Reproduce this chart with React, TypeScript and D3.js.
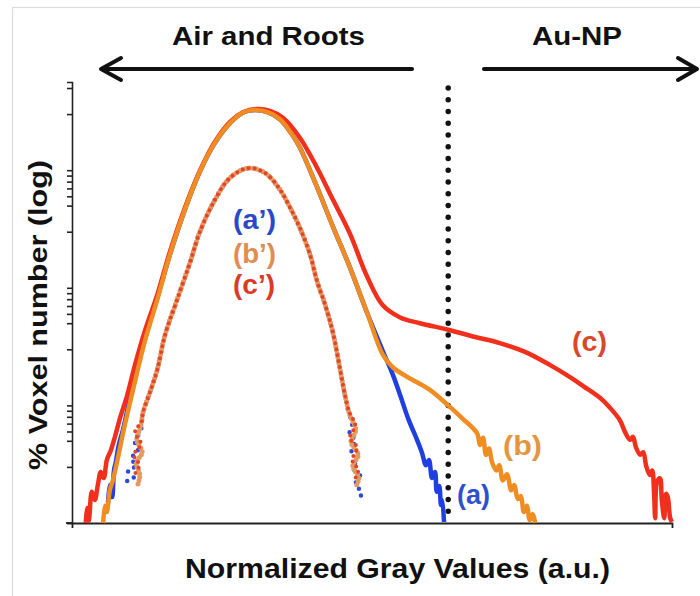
import React, { useEffect, useRef } from "react";
import * as d3 from "d3";

type Pt = [number, number];

// x: normalized gray value (0..1), y: % voxel number (log scale)
const sharedOuter: Pt[] = [
  [0.163, 1.9e-2], [0.188, 4.6e-2], [0.213, 9.7e-2], [0.238, 0.17], [0.263, 0.25],
  [0.285, 0.31], [0.305, 0.325], [0.327, 0.31], [0.347, 0.27], [0.367, 0.2],
  [0.38, 0.155], [0.405, 7.9e-2], [0.435, 3.3e-2], [0.463, 1.5e-2], [0.492, 6.1e-3],
];

const blueLeft: Pt[] = [
  [0.06, 1.48e-4], [0.063, 2.1e-4], [0.067, 1.66e-4], [0.07, 2.8e-4], [0.073, 3.3e-4],
  [0.078, 4.6e-4], [0.085, 6.2e-4], [0.093, 9.5e-4], [0.105, 1.81e-3], [0.122, 3.74e-3],
  [0.142, 8.2e-3],
];
const blueRight: Pt[] = [
  [0.518, 2.9e-3], [0.535, 1.81e-3], [0.547, 1.22e-3], [0.56, 7.8e-4], [0.575, 5.1e-4],
  [0.583, 4.0e-4], [0.59, 3.1e-4], [0.595, 3.43e-4], [0.6, 2.41e-4], [0.605, 2.72e-4],
  [0.608, 1.84e-4], [0.612, 2.06e-4], [0.615, 1.42e-4], [0.617, 1.57e-4], [0.62, 1.02e-4],
];

const orangeLeft: Pt[] = [
  [0.052, 1e-4], [0.055, 1.4e-4], [0.058, 1.24e-4], [0.063, 1.9e-4], [0.068, 2.3e-4],
  [0.075, 3.3e-4], [0.088, 6.8e-4], [0.105, 1.6e-3], [0.122, 3.6e-3], [0.142, 7.9e-3],
];
const orangeRight: Pt[] = [
  [0.518, 2.7e-3], [0.535, 2.1e-3], [0.563, 1.7e-3], [0.597, 1.35e-3], [0.627, 1.0e-3],
  [0.65, 7.8e-4], [0.675, 5.8e-4], [0.68, 4.6e-4], [0.685, 5.3e-4], [0.69, 3.8e-4],
  [0.695, 4.3e-4], [0.7, 3.3e-4], [0.707, 2.8e-4], [0.712, 3.1e-4], [0.718, 2.3e-4],
  [0.725, 2.6e-4], [0.732, 1.9e-4], [0.737, 2.1e-4], [0.743, 1.6e-4], [0.748, 1.7e-4],
  [0.753, 1.24e-4], [0.758, 1.4e-4], [0.763, 1.06e-4], [0.768, 1.19e-4], [0.772, 1.0e-4],
];

const redSeries: Pt[] = [
  [0.023, 1e-4], [0.025, 1.34e-4], [0.028, 1.04e-4], [0.033, 1.84e-4], [0.038, 1.57e-4],
  [0.043, 2.1e-4], [0.048, 2.72e-4], [0.053, 2.41e-4], [0.058, 3.43e-4], [0.065, 4.18e-4],
  [0.072, 5.5e-4], [0.08, 7.8e-4], [0.092, 1.22e-3], [0.105, 2.21e-3], [0.122, 4.38e-3],
  [0.142, 8.69e-3], [0.163, 2.01e-2], [0.188, 4.77e-2], [0.213, 9.85e-2], [0.238, 0.174],
  [0.263, 0.257], [0.285, 0.31], [0.308, 0.331], [0.33, 0.319], [0.352, 0.278],
  [0.38, 0.188], [0.408, 0.106], [0.435, 5.6e-2], [0.463, 2.9e-2], [0.492, 1.24e-2],
  [0.518, 7.1e-3], [0.547, 5.6e-3], [0.58, 5.0e-3], [0.627, 4.4e-3], [0.672, 3.82e-3],
  [0.713, 3.39e-3], [0.755, 2.85e-3], [0.797, 2.2e-3], [0.83, 1.74e-3], [0.852, 1.46e-3],
  [0.88, 1.16e-3], [0.897, 9.5e-4], [0.913, 7.5e-4], [0.922, 5.9e-4], [0.93, 5.1e-4],
  [0.935, 5.4e-4], [0.94, 4.4e-4], [0.947, 3.8e-4], [0.952, 4.0e-4], [0.957, 3.05e-4],
  [0.963, 2.56e-4], [0.967, 2.8e-4], [0.97, 1.84e-4], [0.972, 1.1e-4], [0.975, 2.23e-4],
  [0.98, 2.4e-4], [0.983, 1.57e-4], [0.987, 1.1e-4], [0.99, 1.77e-4], [0.993, 1.66e-4],
  [0.997, 1.1e-4], [1.0, 1.02e-4],
];

// the narrow (primed) histograms share one core shape
const innerCore: Pt[] = [
  [0.118, 8.6e-4], [0.13, 1.3e-3], [0.142, 2.0e-3], [0.155, 3.97e-3], [0.175, 7.87e-3],
  [0.197, 1.66e-2], [0.213, 2.98e-2], [0.238, 5.58e-2], [0.263, 8.58e-2], [0.293, 0.104],
  [0.322, 9.46e-2], [0.347, 6.79e-2], [0.363, 4.86e-2], [0.38, 3.22e-2], [0.397, 1.9e-2],
  [0.408, 1.16e-2], [0.422, 7.14e-3], [0.435, 4.13e-3], [0.447, 2.0e-3], [0.455, 1.22e-3],
];
const a2Left: Pt[] = [
  [0.092, 2.28e-4], [0.103, 2.41e-4], [0.093, 2.8e-4], [0.107, 3.05e-4], [0.098, 3.57e-4],
  [0.11, 4.0e-4], [0.105, 4.79e-4], [0.115, 6.2e-4],
];
const a2Right: Pt[] = [
  [0.46, 9.1e-4], [0.467, 6.8e-4], [0.462, 5.6e-4], [0.473, 5.1e-4], [0.465, 4.18e-4],
  [0.477, 3.57e-4], [0.468, 2.94e-4], [0.48, 2.56e-4], [0.472, 2.1e-4], [0.483, 1.84e-4],
  [0.475, 1.51e-4],
];
const b2Left: Pt[] = [
  [0.11, 2.15e-4], [0.113, 2.56e-4], [0.107, 3.24e-4], [0.117, 4.0e-4], [0.108, 5.1e-4],
  [0.115, 6.8e-4],
];
const b2Right: Pt[] = [
  [0.463, 8.3e-4], [0.473, 6.2e-4], [0.465, 4.9e-4], [0.477, 3.8e-4], [0.468, 3.05e-4],
  [0.478, 2.41e-4], [0.472, 1.99e-4],
];
const c2Left: Pt[] = [
  [0.102, 2.5e-4], [0.112, 3.1e-4], [0.103, 3.8e-4], [0.115, 4.7e-4], [0.105, 5.9e-4],
  [0.117, 7.5e-4],
];
const c2Right: Pt[] = [
  [0.462, 8.8e-4], [0.472, 6.8e-4], [0.463, 5.3e-4], [0.475, 4.4e-4], [0.467, 3.43e-4],
  [0.477, 2.8e-4], [0.47, 2.3e-4],
];

const yDecades = [1e-4, 1e-3, 1e-2, 1e-1];
const yMinorMult = [1, 3, 5, 6, 7, 8, 9];
const auThreshold = 0.627;

const BLUE = "#1f3fe0";
const RED = "#f0301c";
const ORANGE = "#ef8c22";
const TAN = "#e39a5f";
const FONT = "'Liberation Sans', Arial, Helvetica, sans-serif";

const App = () => {
  const xAxisRef = useRef<SVGGElement>(null);
  const yAxisRef = useRef<SVGGElement>(null);

  const xScale = d3.scaleLinear().domain([0, 1]).range([72, 672]);
  const yScale = d3.scaleLog().domain([1e-4, Math.pow(10, -0.25)]).range([523, 82]);

  const line = d3
    .line<Pt>()
    .x((d) => xScale(d[0]))
    .y((d) => yScale(d[1]))
    .curve(d3.curveCatmullRom.alpha(0.5));

  const seriesA = [...blueLeft, ...sharedOuter, ...blueRight];
  const seriesB = [...orangeLeft, ...sharedOuter, ...orangeRight];
  const seriesA2 = [...a2Left, ...innerCore, ...a2Right];
  const seriesB2 = [...b2Left, ...innerCore, ...b2Right];
  const seriesC2 = [...c2Left, ...innerCore, ...c2Right];

  useEffect(() => {
    const yTicks: number[] = [];
    yDecades.forEach((d) =>
      yMinorMult.forEach((m) => {
        if (d * m <= yScale.domain()[1]) yTicks.push(d * m);
      })
    );
    const yAxis = d3.axisLeft(yScale).tickValues(yTicks).tickSize(5).tickFormat(() => "");
    const ya = d3.select(yAxisRef.current).call(yAxis);
    ya.selectAll("path,line").attr("stroke", "#222").attr("stroke-width", 1.6);

    const xAxis = d3.axisBottom(xScale).tickValues([]).tickSizeOuter(5);
    const xa = d3.select(xAxisRef.current).call(xAxis);
    xa.selectAll("path").attr("stroke", "#222").attr("stroke-width", 1.8);
  }, []);

  const dotTop = yScale(0.5);

  return (
    <svg width={700} height={596} style={{ position: "absolute", left: 0, top: 0, background: "#fff" }}>
      <rect x={12.5} y={7.5} width={700} height={600} fill="none" stroke="#dcdcdc" strokeWidth={1.2} />

      {/* headers and arrows */}
      <text x={172} y={45} fontFamily={FONT} fontWeight="bold" fontSize={26} textLength={193} lengthAdjust="spacingAndGlyphs" fill="#111">Air and Roots</text>
      <text x={532} y={45} fontFamily={FONT} fontWeight="bold" fontSize={26} textLength={90} lengthAdjust="spacingAndGlyphs" fill="#111">Au-NP</text>
      <g stroke="#111" strokeWidth={4} fill="none" strokeLinecap="round" strokeLinejoin="round">
        <line x1={102} y1={69} x2={412} y2={69} />
        <polyline points="121,58 101,69 121,80" />
        <line x1={484} y1={69} x2={696} y2={69} />
        <polyline points="678,58 697,69 678,80" />
      </g>

      {/* axes */}
      <g ref={yAxisRef} transform="translate(72,0)" />
      <g ref={xAxisRef} transform="translate(0,523)" />
      <line x1={66} y1={523} x2={72} y2={523} stroke="#222" strokeWidth={1.8} />

      {/* threshold */}
      <line
        x1={xScale(auThreshold)} x2={xScale(auThreshold)} y1={dotTop} y2={yScale(1e-4)}
        stroke="#111" strokeWidth={5.5} strokeLinecap="round" strokeDasharray={`0 ${(yScale(1e-4) - dotTop) / 37}`}
      />

      {/* wide histograms */}
      <path d={line(seriesA) || ""} fill="none" stroke={BLUE} strokeWidth={4.5} strokeLinejoin="round" />
      <path d={line(redSeries) || ""} fill="none" stroke={RED} strokeWidth={4.5} strokeLinejoin="round" />
      <path d={line(seriesB) || ""} fill="none" stroke={ORANGE} strokeWidth={4.5} strokeLinejoin="round" />

      {/* narrow histograms (dotted) */}
      <path d={line(seriesA2) || ""} fill="none" stroke="#2c4ad8" strokeWidth={4.5} strokeLinecap="round" strokeDasharray="0 8" />
      <path d={line(seriesB2) || ""} fill="none" stroke={TAN} strokeWidth={5} strokeLinecap="round" strokeDasharray="0 3.5" />
      <path d={line(seriesC2) || ""} fill="none" stroke="#e2442c" strokeWidth={4} strokeLinecap="round" strokeDasharray="0 6" strokeDashoffset={2} />

      {/* series labels */}
      <g fontFamily={FONT} fontWeight="bold" fontSize={28}>
        <text x={233} y={229} fill="#2a48c8" textLength={43} lengthAdjust="spacingAndGlyphs">(a’)</text>
        <text x={233} y={263} fill="#e08c52" textLength={43} lengthAdjust="spacingAndGlyphs">(b’)</text>
        <text x={233} y={294} fill="#dc3a26" textLength={42} lengthAdjust="spacingAndGlyphs">(c’)</text>
        <text x={572} y={351} fill="#d9482a" textLength={35} lengthAdjust="spacingAndGlyphs">(c)</text>
        <text x={503} y={455} fill="#e2973f" textLength={39} lengthAdjust="spacingAndGlyphs">(b)</text>
        <text x={457} y={504} fill="#2e4fd0" textLength={33} lengthAdjust="spacingAndGlyphs">(a)</text>
      </g>

      {/* axis titles */}
      <text x={185} y={578} fontFamily={FONT} fontWeight="bold" fontSize={27} textLength={425} lengthAdjust="spacingAndGlyphs" fill="#111">Normalized Gray Values (a.u.)</text>
      <text transform="translate(47,470) rotate(-90)" fontFamily={FONT} fontWeight="bold" fontSize={26} textLength={310} lengthAdjust="spacingAndGlyphs" fill="#111">% Voxel number (log)</text>
    </svg>
  );
};

export default App;
